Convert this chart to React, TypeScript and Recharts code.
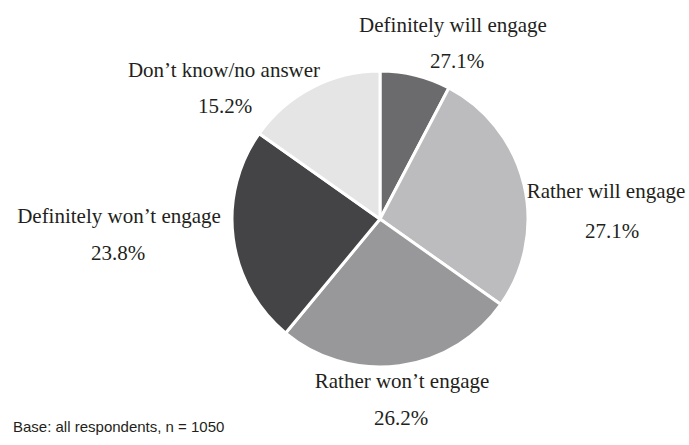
import { Cell, Pie, PieChart } from "recharts";

const categories = [
  "Definitely will engage",
  "Rather will engage",
  "Rather won’t engage",
  "Definitely won’t engage",
  "Don’t know/no answer",
];
const shares = [7.7, 27.1, 26.2, 23.8, 15.2];
// printed labels as they appear on the source (first one is printed as 27.1%)
const shareLabels = ["27.1%", "27.1%", "26.2%", "23.8%", "15.2%"];

const colors = ["#6b6b6d", "#bcbcbe", "#98989a", "#444446", "#e5e5e5"];

// label placement relative to the pie centre (baselines): [name dx, name dy, pct dx, pct dy]
const labelLayout = [
  [73, -187, 77, -151],
  [226, -21, 232, 19],
  [22, 169, 21, 206],
  [-261, 4, -262, 41],
  [-156, -142, -155, -106],
];

const data = categories.map((name, i) => ({ name, value: shares[i], pct: shareLabels[i] }));

const renderLabel = (props: any) => {
  const { cx, cy, index } = props;
  const [x1, y1, x2, y2] = labelLayout[index];
  const style = { fontFamily: "'Liberation Serif', serif", fontSize: 21, fill: "#231f20" };
  return (
    <g>
      <text x={cx + x1} y={cy + y1} textAnchor="middle" style={style}>
        {data[index].name}
      </text>
      <text x={cx + x2} y={cy + y2} textAnchor="middle" style={style}>
        {data[index].pct}
      </text>
    </g>
  );
};

export default function App() {
  return (
    <div style={{ position: "absolute", left: 0, top: 0, width: 689, height: 445, background: "#fff" }}>
      <PieChart width={689} height={445}>
        <Pie
          data={data}
          dataKey="value"
          nameKey="name"
          cx={375}
          cy={214}
          outerRadius={148}
          startAngle={90}
          endAngle={-270}
          stroke="#ffffff"
          strokeWidth={3}
          label={renderLabel}
          labelLine={false}
          isAnimationActive={false}
        >
          {data.map((d, i) => (
            <Cell key={d.name} fill={colors[i]} />
          ))}
        </Pie>
      </PieChart>
      <svg width={689} height={445} style={{ position: "absolute", left: 0, top: 0, pointerEvents: "none" }}>
        <text
          x={13}
          y={432}
          style={{ fontFamily: "'Liberation Sans', Arial, sans-serif", fontSize: 15, fill: "#231f20" }}
        >
          Base: all respondents, n = 1050
        </text>
      </svg>
    </div>
  );
}
